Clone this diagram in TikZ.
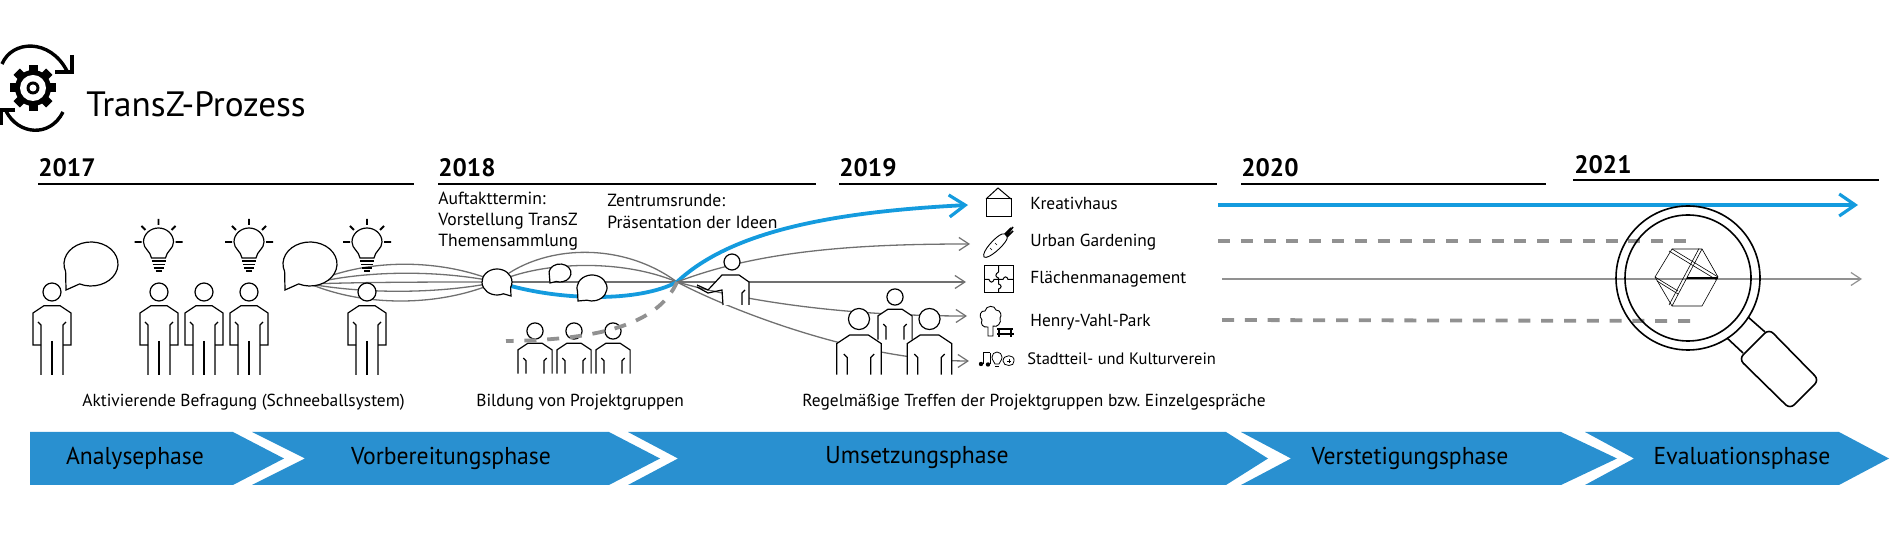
\documentclass[tikz,border=0pt]{standalone}
\usepackage{fontspec}
\setmainfont{PT Sans}
\usetikzlibrary{arrows.meta, calc}
\definecolor{phaseblue}{RGB}{41,144,208}
\definecolor{lineblue}{RGB}{20,155,222}
\definecolor{linegray}{RGB}{112,112,112}
\definecolor{dashgray}{RGB}{145,145,145}
\tikzstyle{figure} = [black, line width=0.6pt, line join=miter]
\tikzstyle{txt} = [anchor=west, inner sep=0pt, font=\fontsize{8.7}{10}\selectfont]
\tikzstyle{year} = [anchor=west, inner sep=0pt, font=\fontsize{12.6}{14}\selectfont\bfseries]
\tikzstyle{phase} = [inner sep=0pt, font=\fontsize{12.2}{14}\selectfont]
\tikzstyle{yearline} = [black, line width=0.55pt]
\tikzstyle{bluearrow} = [-{Straight Barb[length=8pt,width=11pt,line width=1.6pt]}, lineblue, line width=1.9pt]
\tikzstyle{grayarrow} = [-{Straight Barb[length=5pt,width=6.5pt,line width=.6pt]}, linegray, line width=0.65pt]
\tikzstyle{link} = [linegray, line width=0.65pt]
\tikzstyle{dashlink} = [dashgray, line width=1.9pt, dash pattern=on 6pt off 5.4pt]
\tikzset{
  person/.pic={
    \fill[white] (-19,53) -- (-19,21) -- (-8,13.7) -- (8,13.7) -- (19,21) -- (19,53) -- (11,53) -- (11,83) -- (-11,83) -- (-11,53) -- cycle;
    \draw[figure,fill=white] (0,0) circle (9);
    \draw[figure] (-11,53) -- (-19,53) -- (-19,21) -- (-8,13.7) -- (8,13.7) -- (19,21) -- (19,53) -- (11,53);
    \draw[figure] (-14,30) -- (-11,33) -- (-11,83);
    \draw[figure] (14,30) -- (11,33) -- (11,83);
    \draw[figure] (0,49) -- (0,83);
  },
  bust/.pic={
    \fill[white] (-19,47.5) -- (-19,21) -- (-8,13.7) -- (8,13.7) -- (19,21) -- (19,47.5) -- cycle;
    \draw[figure,fill=white] (0,0) circle (9);
    \draw[figure] (-19,47.5) -- (-19,21) -- (-8,13.7) -- (8,13.7) -- (19,21) -- (19,47.5);
    \draw[figure] (-13,30) -- (-10,33) -- (-10,47.5);
    \draw[figure] (13,30) -- (10,33) -- (10,47.5);
  },
  bulb/.pic={
    \draw[figure,fill=white] (-7,15) .. controls (-8,8) and (-15,6) .. (-15,-1) .. controls (-15,-9) and (-8,-15) .. (0,-15) .. controls (8,-15) and (15,-9) .. (15,-1) .. controls (15,6) and (8,8) .. (7,15) -- cycle;
    \draw[figure,line width=0.9pt] (-7,18) -- (7,18) (-6,21.5) -- (6,21.5) (-5,25) -- (5,25) (-3,28) -- (3,28);
    \draw[figure,line width=0.9pt] (0,-24) -- (0,-18) (-24,-1) -- (-17,-1) (24,-1) -- (17,-1) (-17,-17) -- (-13,-13) (17,-17) -- (13,-13);
  }
}
% speech bubble: centre, radii, start and end angle, tail
\newcommand{\bubble}[7]{
  \draw[figure,fill=white] (#1,#2) ++(#5:#3 and #4) arc[start angle=#5,end angle=#6,x radius=#3,y radius=#4] -- (#7) -- cycle;
}
\begin{document}
\frenchspacing
\begin{tikzpicture}[x=0.5pt,y=-0.5pt]
\useasboundingbox (0,0) rectangle (1890,533);

% title and gear
\begin{scope}[shift={(33,88)}]
\foreach \a in {0,45,...,315}
  \fill[black,rotate=\a] (-4.5,-23) rectangle (4.5,0);
\fill[black] (0,0) circle (18);
\fill[white] (0,0) circle (13);
\fill[black] (0,0) circle (6.5);
\fill[white] (0,0) circle (3.5);
\end{scope}
\draw[black,line width=1.7pt] (2,64) .. controls (12,40) and (50,38) .. (67,71);
\draw[black,line width=1.7pt] (72,55) -- (72,72) -- (55,72);
\draw[black,line width=1.7pt] (63,112) .. controls (50,138) and (18,135) .. (6,111);
\draw[black,line width=1.7pt] (15,110) -- (1,110) -- (1,125);
\node (title) [anchor=west, inner sep=0pt, font=\fontsize{17.6}{20}\selectfont] at (86,104) {TransZ-Prozess};

% years
\node (y2017) [year] at (38,168) {2017};
\node (y2018) [year] at (438,168) {2018};
\node (y2019) [year] at (839,168) {2019};
\node (y2020) [year] at (1241,168) {2020};
\node (y2021) [year] at (1574,165) {2021};
\draw [yearline] (38,184) -- (414,184);
\draw [yearline] (438,184) -- (816,184);
\draw [yearline] (839,184) -- (1217,184);
\draw [yearline] (1241,184) -- (1546,184);
\draw [yearline] (1573,180) -- (1879,180);

% hubs and ends of the connectors
\coordinate (hubA) at (310,284);
\coordinate (hubB) at (497,282);
\coordinate (hubC) at (677,282);
\coordinate (tipHaus) at (968,205);
\coordinate (tipGarden) at (970,244);
\coordinate (tipFlaeche) at (966,282);
\coordinate (tipPark) at (967,316);
\coordinate (tipVerein) at (969,361);
\coordinate (dashEnd) at (506,341);

\draw [link] (hubA) .. controls (365,258) and (440,258) .. (hubB);
\draw [link] (hubA) .. controls (365,270) and (440,270) .. (hubB);
\draw [link] (hubA) .. controls (365,282) and (440,282) .. (hubB);
\draw [link] (hubA) .. controls (365,294) and (440,294) .. (hubB);
\draw [link] (hubA) .. controls (365,307) and (440,307) .. (hubB);
\draw [link] (hubB) .. controls (540,245) and (620,240) .. (hubC);
\draw [link] (hubB) .. controls (540,262) and (620,258) .. (hubC);
\draw [link] (hubB) -- (hubC);
\draw [lineblue, line width=1.9pt] (hubB) .. controls (560,302) and (640,302) .. (hubC);
\draw [bluearrow] (hubC) .. controls (730,232) and (830,212) .. (tipHaus);
\draw [grayarrow] (hubC) .. controls (760,250) and (860,244) .. (tipGarden);
\draw [grayarrow] (hubC) -- (tipFlaeche);
\draw [grayarrow] (hubC) .. controls (760,305) and (860,316) .. (tipPark);
\draw [grayarrow] (hubC) .. controls (730,310) and (860,361) .. (tipVerein);

% people
\pic at (52,292) {person};
\pic at (159,292) {person};
\pic at (204,292) {person};
\pic at (249,292) {person};
\pic at (367,292) {person};
\pic at (158.5,243) {bulb};
\pic at (249,243) {bulb};
\pic at (367,243) {bulb};
\bubble{91}{264}{27}{22}{160}{475}{66,290}
\bubble{310}{264}{27}{22}{160}{475}{285,290}
\bubble{497}{282}{15}{13}{65}{385}{511,296}
\bubble{560}{273}{11}{9}{165}{470}{550,283}
\bubble{592}{288}{15}{13}{165}{470}{578,301}

\pic[scale=.9] at (535,331) {bust};
\pic[scale=.9] at (574,331) {bust};
\pic[scale=.9] at (613,331) {bust};
\draw [dashlink] (hubC) .. controls (660,320) and (610,340) .. (dashEnd);

% presenter
\fill [white] (722,275) -- (739,275) -- (749,282) -- (749,305) -- (723,305) -- (722,290) -- (708,290) -- cycle;
\draw [figure] (749,305) -- (749,282) -- (739,275) -- (722,275) -- (708,290) -- (697,285);
\draw [figure] (697,287) -- (708,293) -- (722,290) -- (723,305);
\draw [figure] (742,305) -- (742,293) -- (745,290);
\draw [figure,fill=white] (732,262) circle (8);

\pic[scale=.9] at (895,297) {bust};
\pic[scale=1.17] at (859,319) {bust};
\pic[scale=1.17] at (929.5,319) {bust};

% house
\draw [figure, line width=.5pt] (986,199) rectangle (1011,217);
\draw [figure, line width=.5pt] (986,199) -- (998,188) -- (1011,199);
% carrot
\draw [figure, line width=.45pt] (984,257) .. controls (981,252) and (996,236) .. (1002,234) .. controls (1006,233) and (1008,236) .. (1007,239) .. controls (1004,246) and (988,260) .. (984,257) -- cycle;
\draw [black, line width=.8pt] (1006,236) -- (1013,227) (1005,234) -- (1011,228) (1007,237) -- (1013,231);
\draw [figure, line width=.3pt] (990,248) -- (992,250) (995,243) -- (997,245);
% puzzle
\draw [figure, line width=.5pt] (984,266) rectangle (1013,293);
\draw [figure, line width=.5pt] (998.5,266) -- (998.5,272) .. controls (995,274) and (995,277) .. (998.5,278) -- (998.5,279.5) -- (994,279.5) .. controls (993,283) and (990,283) .. (989,279.5) -- (984,279.5);
\draw [figure, line width=.5pt] (998.5,279.5) -- (1003,279.5) .. controls (1004,276) and (1007,276) .. (1008,279.5) -- (1013,279.5);
\draw [figure, line width=.5pt] (998.5,279.5) -- (998.5,284) .. controls (1002,285) and (1002,288) .. (998.5,289) -- (998.5,293);
% tree and bench
\draw [figure, line width=.45pt] (988,336) -- (988,327) .. controls (983,328) and (980,324) .. (982,320) .. controls (978,316) and (981,310) .. (985,311) .. controls (986,305) and (995,305) .. (996,310) .. controls (1001,310) and (1002,316) .. (1000,318) .. controls (1002,323) and (997,328) .. (993,326) -- (993,336) -- cycle;
\draw [figure, line width=.7pt] (997,329) -- (1013,329) (997,334) -- (1014,334) (999,329) -- (999,337) (1011,329) -- (1011,337);
% notes, bulb, cloud
\draw [figure, line width=.5pt] (983,353) -- (990,353) (983,353) -- (983,364) (990,353) -- (990,364);
\fill [black] (981,364) circle (2.2) (988,364.5) circle (2.2);
\draw [figure, line width=.4pt] (992,357) arc[start angle=180,end angle=360,radius=5] .. controls (1002,361) and (999,362) .. (999,364) -- (995,364) .. controls (995,362) and (992,361) .. (992,357) -- cycle;
\draw [figure, line width=.4pt] (995,366) -- (999,366);
\draw [figure, line width=.4pt] (1003,361) .. controls (1003,354) and (1015,354) .. (1014,361) .. controls (1015,367) and (1003,367) .. (1003,361) -- cycle;
\draw [figure, line width=.3pt] (1007,361) -- (1011,361) (1009,359) -- (1009,363);

% item labels
\node (haus) [txt] at (1030,203) {Kreativhaus};
\node (garden) [txt] at (1030,242) {Urban Gardening};
\node (flaeche) [txt] at (1030,279) {Flächenmanagement};
\node (park) [txt] at (1030,322) {Henry-Vahl-Park};
\node (verein) [txt, font=\fontsize{8.25}{10}\selectfont] at (1027,359) {Stadtteil- und Kulturverein};
\node (auftakt) [txt, align=left, font=\fontsize{8.8}{10.5}\selectfont] at (438,221) {Auftakttermin:\\Vorstellung TransZ\\Themensammlung};
\node (runde) [txt, align=left, font=\fontsize{8.8}{11}\selectfont] at (607,211) {Zentrumsrunde:\\Präsentation der Ideen};
\node (befragung) [txt] at (82,402) {Aktivierende Befragung (Schneeballsystem)};
\node (gruppen) [txt] at (476,402) {Bildung von Projektgruppen};
\node (treffen) [txt] at (802,402) {Regelmäßige Treffen der Projektgruppen bzw. Einzelgespräche};

% lines to the right
\coordinate (startHaus) at (1218,205);
\coordinate (endHaus) at (1858,205);
\coordinate (startGarden) at (1218,241);
\coordinate (endGarden) at (1691,241);
\coordinate (startFlaeche) at (1222,279);
\coordinate (endFlaeche) at (1862,279);
\coordinate (startPark) at (1222,320);
\coordinate (endPark) at (1695,321);
\draw [bluearrow] (startHaus) -- (endHaus);
\draw [dashlink] (startGarden) -- (endGarden);
\draw [grayarrow, dashgray] (startFlaeche) -- (endFlaeche);
\draw [dashlink] (startPark) -- (endPark);

% magnifier
\draw [black, line width=.8pt] (1688,278) circle (72);
\draw [black, line width=.8pt] (1688,278) circle (63);
\draw [black, line width=.8pt] (1748,317) -- (1765,332) (1727,338) -- (1743,353);
\draw [black, line width=.8pt, rounded corners=3pt] (1769,329) -- (1819,380) -- (1790,409) -- (1739,359) -- cycle;
\draw [black, line width=.3pt] (1672,249) -- (1702,249) -- (1718,277) -- (1702,306) -- (1672,306) -- (1655,277) -- cycle;
\draw [black, line width=.3pt] (1672,249) -- (1718,277) (1669,251) -- (1716,279.5);
\draw [black, line width=.3pt] (1702,249) -- (1672,306) (1699,248.5) -- (1669,305);
\draw [black, line width=.3pt] (1655,277) -- (1678,291) (1657,281) -- (1678,294);
\draw [black, line width=.8pt] (1687,278) -- (1718,278);

% phases
\fill [phaseblue] (30,432) -- (233,432) -- (284,458.5) -- (233,485) -- (30,485) -- cycle;
\fill [phaseblue] (252,432) -- (609,432) -- (660,458.5) -- (609,485) -- (252,485) -- (305,458.5) -- cycle;
\fill [phaseblue] (628,432) -- (1226,432) -- (1268,458.5) -- (1226,485) -- (628,485) -- (678,458.5) -- cycle;
\fill [phaseblue] (1241,432) -- (1561,432) -- (1617,458.5) -- (1561,485) -- (1241,485) -- (1291,458.5) -- cycle;
\fill [phaseblue] (1585,432) -- (1839,432) -- (1889,458.5) -- (1839,485) -- (1585,485) -- (1634,458.5) -- cycle;
\node (analyse) [phase] at (135,458) {\scalebox{.97}[1]{Analysephase}};
\node (vorbereitung) [phase] at (451,458) {\scalebox{.97}[1]{Vorbereitungsphase}};
\node (umsetzung) [phase] at (917,458) {\scalebox{.97}[1]{Umsetzungsphase}};
\node (verstetigung) [phase] at (1410,458) {\scalebox{.97}[1]{Verstetigungsphase}};
\node (evaluation) [phase] at (1742,458) {\scalebox{.97}[1]{Evaluationsphase}};
\end{tikzpicture}
\end{document}
